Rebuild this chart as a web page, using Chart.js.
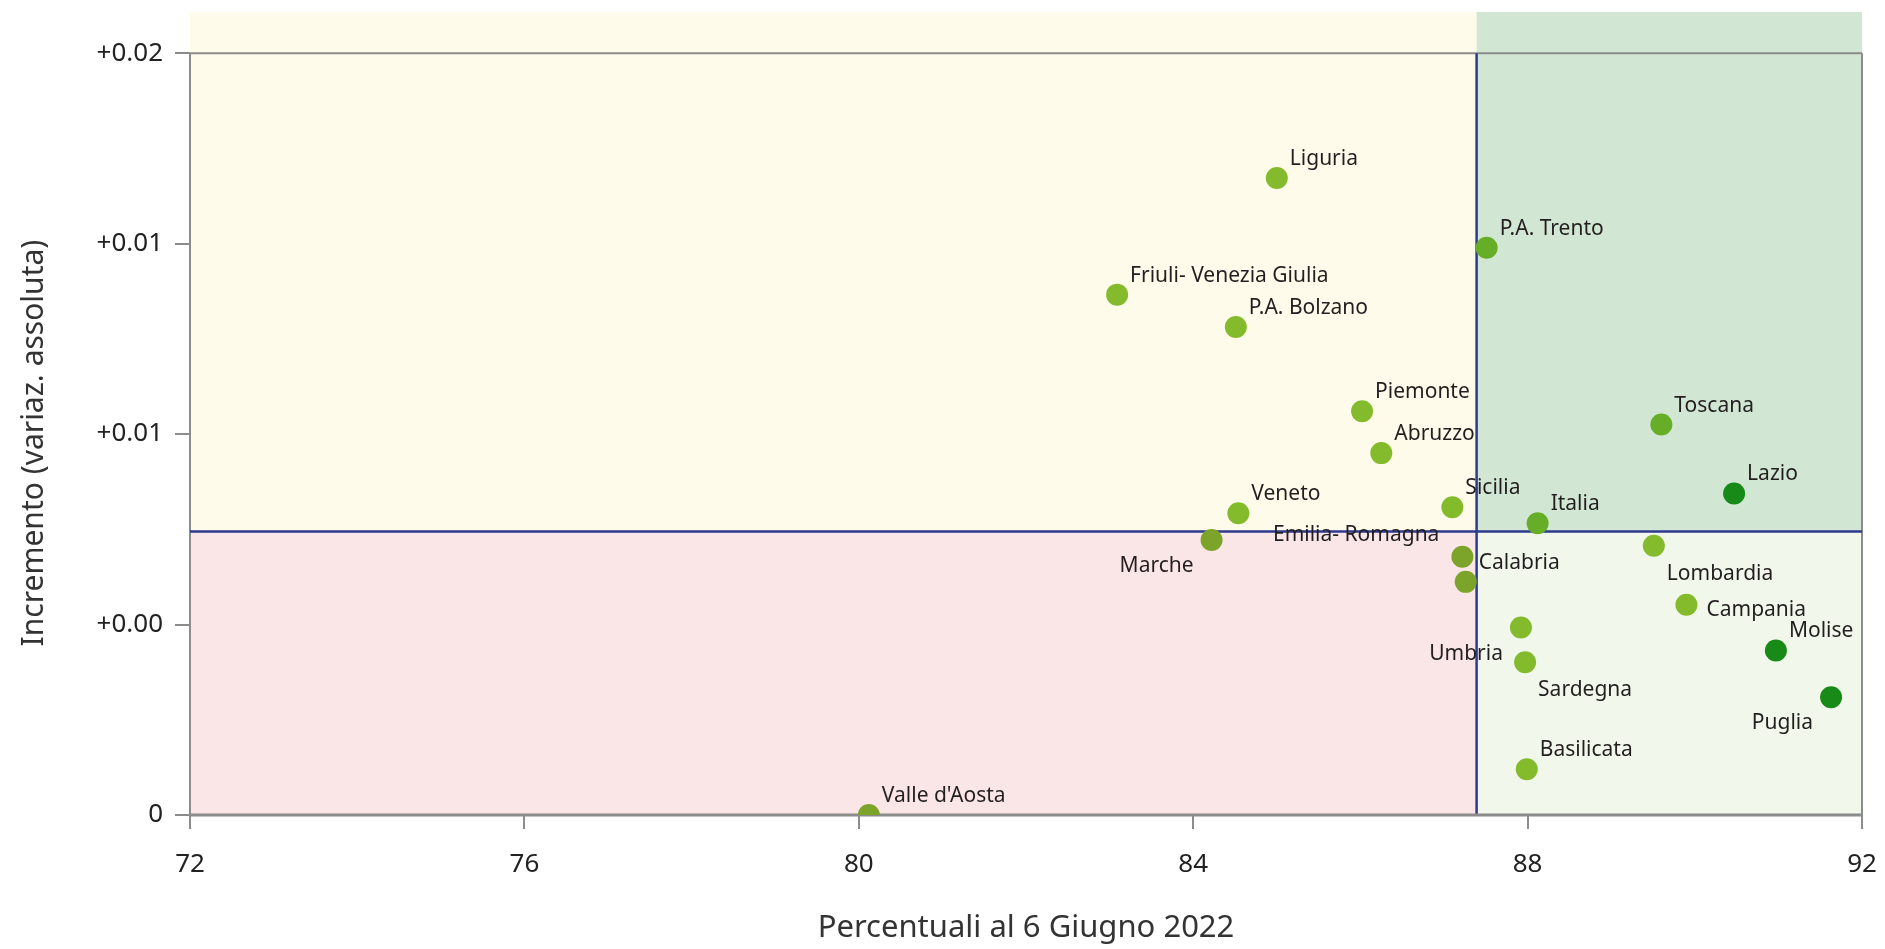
<!DOCTYPE html>
<html>
<head>
<meta charset="utf-8">
<script src="https://cdn.jsdelivr.net/npm/chart.js@4"></script>
<style>
  html, body { margin: 0; padding: 0; background: #fff; }
  #wrap { width: 1885px; height: 949px; }
</style>
</head>
<body>
<div id="wrap"><canvas id="grafico" width="1885" height="949"></canvas></div>
<script>
// Dati: percentuale al 6 giugno 2022 e incremento (variazione assoluta)
const regioni = ['Liguria', 'P.A. Trento', 'Friuli- Venezia Giulia', 'P.A. Bolzano', 'Piemonte', 'Toscana',
  'Abruzzo', 'Lazio', 'Sicilia', 'Veneto', 'Italia', 'Marche', 'Lombardia', 'Emilia- Romagna', 'Calabria',
  'Campania', 'Umbria', 'Sardegna', 'Molise', 'Puglia', 'Basilicata', "Valle d'Aosta"];
const percentuali = [85.00, 87.51, 83.09, 84.51, 86.02, 89.60, 86.25, 90.47, 87.10, 84.54, 88.12, 84.22,
  89.51, 87.22, 87.26, 89.90, 87.92, 87.97, 90.97, 91.63, 87.99, 80.12];
const incrementi = [0.01672, 0.01489, 0.01366, 0.01281, 0.01060, 0.01025, 0.00950, 0.00844, 0.00808, 0.00792,
  0.00766, 0.00722, 0.00707, 0.00678, 0.00612, 0.00552, 0.00492, 0.00401, 0.00432, 0.00309, 0.00120, 0.0];

const xTicks = [72, 76, 80, 84, 88, 92];
const yTicks = [0, 0.005, 0.01, 0.015, 0.02];
const yTickLabels = ['0', '+0.00', '+0.01', '+0.01', '+0.02'];

// soglie dei quadranti
const sogliaX = 87.39;
const sogliaY = 0.00744;

// stile (colore e posizione etichetta per punto)
const VERDE = '#84bb2c', MEDIO = '#66ad28', SCURO = '#178a17', OLIVA = '#7da42a';
const coloriPunti = [VERDE, MEDIO, VERDE, VERDE, VERDE, MEDIO, VERDE, SCURO, VERDE, VERDE, MEDIO, OLIVA,
  VERDE, OLIVA, OLIVA, VERDE, VERDE, VERDE, SCURO, SCURO, VERDE, OLIVA];
const posEtichette = ['ne', 'ne', 'ne', 'ne', 'ne', 'ne', 'ne', 'ne', 'ne', 'ne', 'ne', 'sw',
  'se', 'nw', 'ne', 'e', 'sw', 'se', 'ne', 'sw', 'ne', 'ne'];

const FONT = '"Noto Sans", "DejaVu Sans", sans-serif';
const titoloY = 'Incremento (variaz. assoluta)';

// Sfondo dei quadranti e linee di riferimento
const quadranti = {
  id: 'quadranti',
  beforeDatasetsDraw(chart) {
    const { ctx, chartArea: a, scales: { x, y } } = chart;
    const xs = x.getPixelForValue(sogliaX);
    const ys = y.getPixelForValue(sogliaY);
    const yTop = y.getPixelForValue(0.02);
    ctx.save();
    ctx.fillStyle = '#fffbea';
    ctx.fillRect(a.left, a.top, xs - a.left, ys - a.top);
    ctx.fillStyle = '#d2e7d3';
    ctx.fillRect(xs, a.top, a.right - xs, ys - a.top);
    ctx.fillStyle = '#fbe6e7';
    ctx.fillRect(a.left, ys, xs - a.left, a.bottom - ys);
    ctx.fillStyle = '#f1f7ea';
    ctx.fillRect(xs, ys, a.right - xs, a.bottom - ys);

    // cornice grigia
    ctx.strokeStyle = '#8c8c8c';
    ctx.lineWidth = 2;
    ctx.beginPath();
    ctx.moveTo(a.left, yTop); ctx.lineTo(a.right, yTop);
    ctx.moveTo(a.left, yTop); ctx.lineTo(a.left, a.bottom);
    ctx.moveTo(a.right, yTop); ctx.lineTo(a.right, a.bottom);
    ctx.stroke();

    // linee delle soglie
    ctx.strokeStyle = '#2e3a8e';
    ctx.lineWidth = 2.5;
    ctx.beginPath();
    ctx.moveTo(a.left, ys); ctx.lineTo(a.right, ys);
    ctx.moveTo(xs, yTop); ctx.lineTo(xs, a.bottom);
    ctx.stroke();

    ctx.strokeStyle = '#8c8c8c';
    ctx.lineWidth = 3;
    ctx.beginPath();
    ctx.moveTo(a.left - 1, a.bottom); ctx.lineTo(a.right + 1, a.bottom);
    ctx.stroke();

    // titolo asse y (centrato sulla parte con tacche)
    ctx.translate(34, (yTop + a.bottom) / 2 + 9);
    ctx.rotate(-Math.PI / 2);
    ctx.font = '30px ' + FONT;
    ctx.fillStyle = '#333';
    ctx.textAlign = 'center';
    ctx.textBaseline = 'middle';
    ctx.fillText(titoloY, 0, 0);
    ctx.restore();
  }
};

// Etichette dei punti
const etichette = {
  id: 'etichette',
  afterDatasetsDraw(chart) {
    const { ctx } = chart;
    const meta = chart.getDatasetMeta(0);
    ctx.save();
    ctx.font = '21px ' + FONT;
    ctx.fillStyle = '#231f20';
    ctx.textBaseline = 'middle';
    meta.data.forEach((pt, i) => {
      const pos = posEtichette[i];
      let dx = 13, dy = -19, align = 'left';
      if (pos === 'nw') { dx = -23; dy = -22; align = 'right'; }
      if (pos === 'se') { dx = 13; dy = 28; }
      if (pos === 'sw') { dx = -18; dy = 26; align = 'right'; }
      if (pos === 'e') { dx = 20; dy = 5; }
      ctx.textAlign = align;
      ctx.fillText(regioni[i], pt.x + dx, pt.y + dy);
    });
    ctx.restore();
  }
};

const ctx = document.getElementById('grafico').getContext('2d');
new Chart(ctx, {
  type: 'scatter',
  data: {
    datasets: [{
      data: percentuali.map((v, i) => ({ x: v, y: incrementi[i] })),
      backgroundColor: coloriPunti,
      pointRadius: 11,
      pointHoverRadius: 11,
      borderWidth: 0,
      clip: 0
    }]
  },
  options: {
    responsive: false,
    animation: false,
    layout: { padding: { top: 12, right: 23, left: 0, bottom: 0 } },
    plugins: {
      legend: { display: false },
      tooltip: { enabled: false }
    },
    scales: {
      x: {
        type: 'linear',
        min: 72,
        max: 92,
        afterBuildTicks: s => { s.ticks = xTicks.map(v => ({ value: v })); },
        afterFit: s => { s.height = 134; s.paddingLeft = 0; s.paddingRight = 0; },
        grid: { drawOnChartArea: false, drawTicks: true, tickLength: 14, color: '#8c8c8c', lineWidth: 2 },
        border: { display: false },
        ticks: { font: { family: FONT, size: 26 }, color: '#222', padding: 20, maxRotation: 0 },
        title: {
          display: true,
          text: 'Percentuali al 6 Giugno 2022',
          font: { family: FONT, size: 31 },
          color: '#333',
          padding: { top: 0, bottom: 2 }
        }
      },
      y: {
        type: 'linear',
        min: 0,
        max: 0.02108,
        afterBuildTicks: s => { s.ticks = yTicks.map(v => ({ value: v })); },
        afterFit: s => { s.width = 190; s.paddingTop = 0; s.paddingBottom = 0; },
        grid: { drawOnChartArea: false, drawTicks: true, tickLength: 15, color: '#8c8c8c', lineWidth: 2 },
        border: { display: false },
        ticks: {
          font: { family: FONT, size: 26 },
          color: '#222',
          padding: 12,
          callback: (v, i) => yTickLabels[i]
        },
        title: { display: false }
      }
    }
  },
  plugins: [quadranti, etichette]
});
</script>
</body>
</html>
